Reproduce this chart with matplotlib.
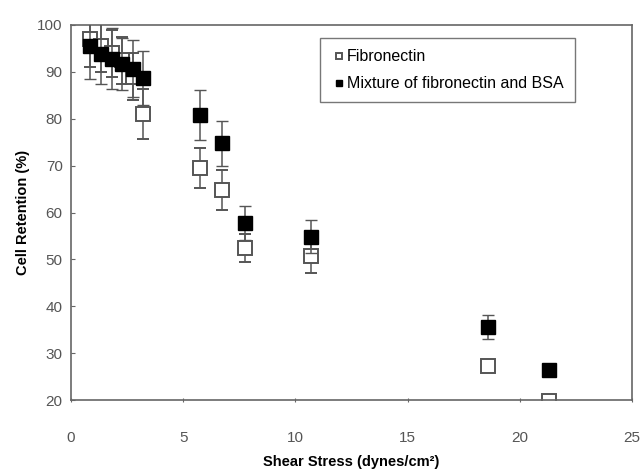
import matplotlib
matplotlib.use('Agg')
import matplotlib.pyplot as plt

plt.rcParams['font.family'] = ['Liberation Sans', 'DejaVu Sans']

# shear stress (dynes/cm2)
shear = [0.85, 1.34, 1.83, 2.26, 2.75, 3.23, 5.73, 6.75, 7.74, 10.69, 18.6, 21.3]

# cell retention (%) and error bars
fib_y = [97, 95.5, 94, 92.5, 89, 81, 69.5, 64.8, 52.4, 50.7, 27.2, 19.8]
fib_err = [6, 5.5, 5, 5, 5, 5.3, 4.3, 4.3, 3, 3.5, 1, 0.5]
mix_y = [95.5, 93.9, 92.8, 91.7, 90.7, 88.7, 80.8, 74.8, 57.7, 54.8, 35.6, 26.4]
mix_err = [7, 6.5, 6.5, 5.5, 6, 5.7, 5.3, 4.8, 3.6, 3.5, 2.5, 1]

fig = plt.figure(figsize=(6.43, 4.70), dpi=100)
ax = fig.add_axes([71 / 643, 70 / 470, 561 / 643, 375 / 470])

ax.errorbar(shear, fib_y, yerr=fib_err, fmt='s', ms=10, mfc='white', mec='#555555',
            mew=1.4, ecolor='#555555', elinewidth=1.1, capsize=4, capthick=1.1,
            label='Fibronectin', zorder=2)
ax.errorbar(shear, mix_y, yerr=mix_err, fmt='s', ms=10, mfc='black', mec='black',
            mew=1, ecolor='#555555', elinewidth=1.1, capsize=4, capthick=1.1,
            label='Mixture of fibronectin and BSA', zorder=3)

ax.set_xlim(0, 25)
ax.set_ylim(20, 100)
ax.set_xticks([0, 5, 10, 15, 20, 25])
ax.set_yticks(range(20, 101, 10))

for s in ax.spines.values():
    s.set_color('#666666')
    s.set_linewidth(1.2)
ax.tick_params(axis='x', direction='inout', length=3, color='#666666', labelsize=11,
               labelcolor='#555555', pad=21)
ax.tick_params(axis='y', direction='in', length=3, color='#666666', labelsize=11,
               labelcolor='#555555', pad=6)

ax.set_xlabel('Shear Stress (dynes/cm²)', fontsize=10.5, fontweight='bold', labelpad=7)
ax.set_ylabel('Cell Retention (%)', fontsize=10.5, fontweight='bold', labelpad=5)

h, l = ax.get_legend_handles_labels()
h = [x[0] for x in h]
leg = ax.legend(h, l, loc='upper left', bbox_to_anchor=(0.444, 0.965), fontsize=11.5,
                frameon=True, fancybox=False, edgecolor='#555555', markerscale=0.5,
                handlelength=1.0, handletextpad=0.0, labelspacing=0.75,
                borderpad=0.7, borderaxespad=0)
leg.get_frame().set_linewidth(1.0)

fig.savefig('out.png', dpi=100, facecolor='white')
